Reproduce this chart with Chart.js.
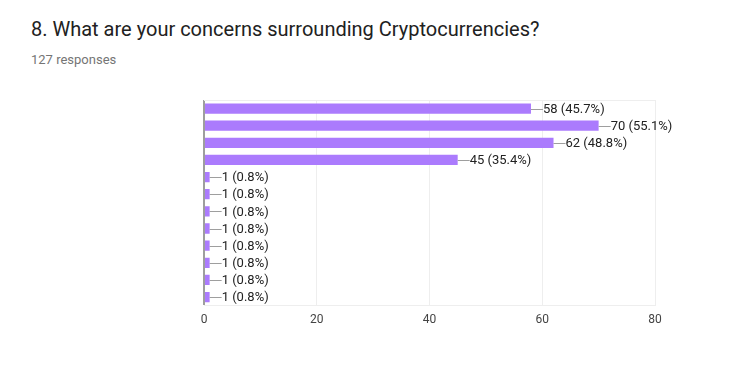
<!DOCTYPE html>
<html>
<head>
<meta charset="utf-8">
<script src="https://cdn.jsdelivr.net/npm/chart.js@4.4.0/dist/chart.umd.min.js"></script>
<style>
  html, body { margin: 0; padding: 0; background: #fff; }
  #wrap { position: relative; width: 739px; height: 378px; }
  #title { position: absolute; left: 31px; top: 17px; font: 20px Roboto, sans-serif; color: #212121; }
  #sub { position: absolute; left: 31px; top: 52px; font: 13px Roboto, sans-serif; color: #757575; }
  #box { position: absolute; left: 0; top: 0; width: 739px; height: 378px; }
</style>
</head>
<body>
<div id="wrap">
  <div id="title">8. What are your concerns surrounding Cryptocurrencies?</div>
  <div id="sub">127 responses</div>
  <div id="box"><canvas id="chart"></canvas></div>
</div>
<script>
// categories have no visible labels in the source picture
var categories = ['', '', '', '', '', '', '', '', '', '', '', ''];
var counts = [58, 70, 62, 45, 1, 1, 1, 1, 1, 1, 1, 1];
var totalResponses = 127;
var xTicks = [0, 20, 40, 60, 80];

// value labels with a short leader line, like google forms draws them
var valueLabels = {
    id: 'valueLabels',
    afterDatasetsDraw: function(chart) {
        var ctx = chart.ctx;
        var meta = chart.getDatasetMeta(0);
        ctx.save();
        ctx.font = '13px Roboto, sans-serif';
        ctx.textBaseline = 'middle';
        ctx.fillStyle = '#222222';
        meta.data.forEach(function(bar, i) {
            var v = counts[i];
            var pct = (v / totalResponses * 100).toFixed(1);
            ctx.strokeStyle = '#9e9e9e';
            ctx.lineWidth = 1;
            ctx.beginPath();
            ctx.moveTo(bar.x, Math.round(bar.y) + 0.5);
            ctx.lineTo(bar.x + 12, Math.round(bar.y) + 0.5);
            ctx.stroke();
            ctx.fillText(v + ' (' + pct + '%)', bar.x + 12, bar.y + 1);
        });
        // top frame line
        var a = chart.chartArea;
        ctx.strokeStyle = '#eeeeee';
        ctx.beginPath();
        ctx.moveTo(a.left, a.top + 0.5);
        ctx.lineTo(a.right, a.top + 0.5);
        ctx.stroke();
        ctx.restore();
    }
};

var myChart = new Chart(document.getElementById('chart'), {
    type: 'bar',
    data: {
        labels: categories,
        datasets: [{
            data: counts,
            backgroundColor: '#ab7bfd',
            borderWidth: 0,
            barPercentage: 0.6,
            categoryPercentage: 1.0
        }]
    },
    options: {
        indexAxis: 'y',
        responsive: true,
        maintainAspectRatio: false,
        animation: false,
        layout: { padding: { left: 204, right: 84, top: 100, bottom: 44 } },
        plugins: {
            legend: { display: false },
            tooltip: { enabled: false }
        },
        scales: {
            x: {
                min: 0,
                max: 80,
                afterBuildTicks: function(axis) {
                    axis.ticks = xTicks.map(function(v) { return { value: v }; });
                },
                grid: {
                    color: function(c) { return c.tick && c.tick.value === 0 ? '#9e9e9e' : '#eeeeee'; },
                    lineWidth: function(c) { return c.tick && c.tick.value === 0 ? 2 : 1; },
                    drawTicks: false
                },
                border: { display: true, color: '#eeeeee' },
                ticks: {
                    padding: 7,
                    color: '#444444',
                    font: { family: 'Roboto', size: 12 }
                }
            },
            y: {
                display: false
            }
        }
    },
    plugins: [valueLabels]
});
</script>
</body>
</html>
